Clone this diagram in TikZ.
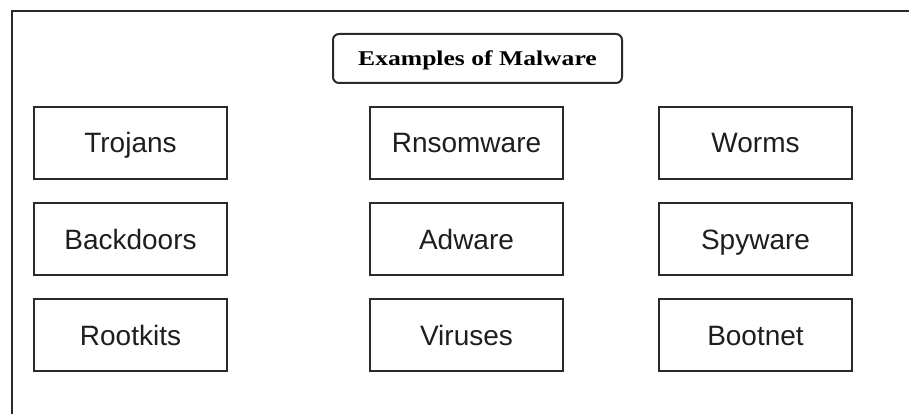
\documentclass[tikz,border=0pt]{standalone}
\usepackage{fontspec}
\setmainfont{Liberation Sans}
\newfontfamily\titlefont{Liberation Serif}
\definecolor{inkdark}{HTML}{1E1E1E}
\definecolor{framegray}{HTML}{2A2A2A}
\begin{document}
\begin{tikzpicture}[x=1pt,y=-1pt,
  item/.style={draw=framegray, line width=2pt, fill=white,
    minimum width=193pt, minimum height=72pt, inner sep=0pt,
    text=inkdark, font=\fontsize{28}{30}\selectfont,
    text height=20pt, text depth=0pt},
  heading/.style={draw=framegray, line width=2pt, rounded corners=6pt,
    minimum width=289pt, minimum height=49pt, inner sep=0pt,
    text=black, font=\titlefont\bfseries\fontsize{21}{24}\selectfont,
    text height=14pt, text depth=0pt}]
  \useasboundingbox (0,0) rectangle (909,414);
  % outer frame, running past the right and bottom edges
  \begin{scope}
    \clip (0,0) rectangle (909,414);
    \draw[framegray, line width=2pt] (12,430) -- (12,11) -- (930,11);
  \end{scope}

  \node[heading] (title) at (477.5,58.5) {\scalebox{1.22}[1]{Examples of Malware}};

  \node[item] (trojans)   at (130.5,143) {Trojans};
  \node[item] (ransom)    at (466.5,143) {Rnsomware};
  \node[item] (worms)     at (755.5,143) {Worms};

  \node[item] (backdoors) at (130.5,239) {Backdoors};
  \node[item] (adware)    at (466.5,239) {Adware};
  \node[item] (spyware)   at (755.5,239) {Spyware};

  \node[item] (rootkits)  at (130.5,335) {Rootkits};
  \node[item] (viruses)   at (466.5,335) {Viruses};
  \node[item] (bootnet)   at (755.5,335) {Bootnet};
\end{tikzpicture}
\end{document}
